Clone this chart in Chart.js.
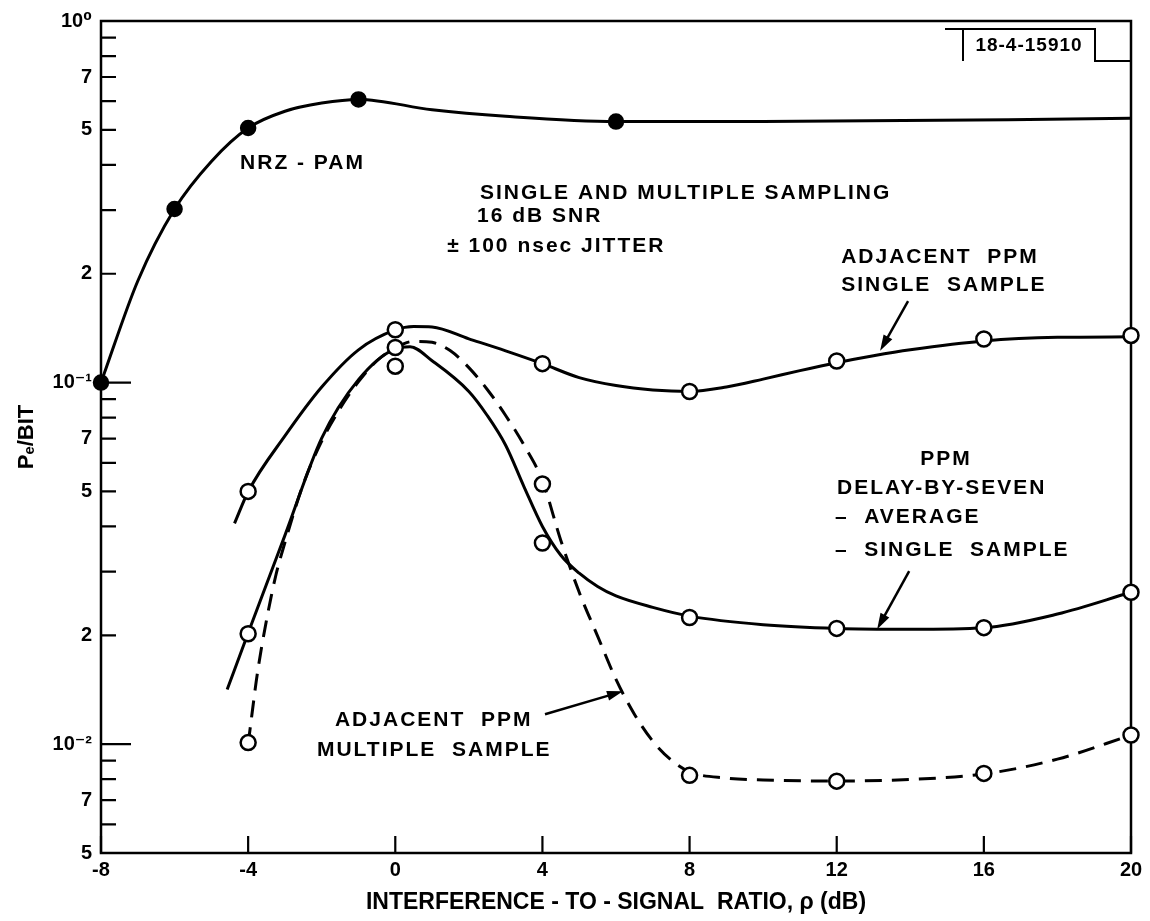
<!DOCTYPE html>
<html>
<head>
<meta charset="utf-8">
<script src="https://cdn.jsdelivr.net/npm/chart.js@4.4.0/dist/chart.umd.min.js"></script>
<style>
  html, body { margin: 0; padding: 0; background: #fff; }
  #wrap { width: 1150px; height: 921px; }
</style>
</head>
<body>
<div id="wrap"><canvas id="pe"></canvas></div>
<script>
// axis ticks
const xTicks = [-8, -4, 0, 4, 8, 12, 16, 20];
const yTicks = [1, 0.9, 0.8, 0.7, 0.6, 0.5, 0.4, 0.3, 0.2,
                0.1, 0.09, 0.08, 0.07, 0.06, 0.05, 0.04, 0.03, 0.02,
                0.01, 0.009, 0.008, 0.007, 0.006, 0.005];
const yLabelValues = [1, 0.7, 0.5, 0.2, 0.1, 0.07, 0.05, 0.02, 0.01, 0.007, 0.005];
const yLabelText = ['10⁰', '7', '5', '2', '10⁻¹', '7', '5', '2', '10⁻²', '7', '5'];

// NRZ-PAM (filled dots)
const nrzX = [-8, -7, -6, -5, -4, -3, -2, -1, 1, 3, 6, 10, 20];
const nrzY = [0.1, 0.191, 0.302, 0.409, 0.506, 0.563, 0.593, 0.607, 0.568, 0.545, 0.527, 0.527, 0.538];
const nrzMarkX = [-8, -6, -4, -1, 6];
const nrzMarkY = [0.1, 0.302, 0.506, 0.607, 0.527];

// adjacent PPM, single sample
const adjSingleX = [-4.37, -4, -3, -2, -1, 0, 0.5, 1, 2, 3, 4, 5, 6, 7, 8, 9, 10, 11, 12, 13, 14, 16, 18, 20];
const adjSingleY = [0.0408, 0.0499, 0.0712, 0.0972, 0.1232, 0.1398, 0.1429, 0.1425, 0.1321, 0.1224, 0.1128,
                    0.1032, 0.0981, 0.0954, 0.0945, 0.0972, 0.1022, 0.1079, 0.1135, 0.1186, 0.1232,
                    0.1304, 0.1334, 0.1338];
const adjSingleMarkX = [-4, 0, 4, 8, 12, 16, 20];
const adjSingleMarkY = [0.05, 0.14, 0.1128, 0.0945, 0.1147, 0.132, 0.135];

// PPM delay-by-seven, single sample
const delayX = [-4.57, -4, -3, -2, -1, 0, 0.4, 1, 2, 2.5, 3, 3.5, 4, 4.5, 5, 5.5, 6, 7, 8, 10, 12, 14, 16, 18, 20];
const delayY = [0.01416, 0.0203, 0.0378, 0.0702, 0.1019, 0.124, 0.1256, 0.1149, 0.0945, 0.0811, 0.0671, 0.0515,
                0.040, 0.0333, 0.0297, 0.0273, 0.0257, 0.0239, 0.0226, 0.0214, 0.0209, 0.0208, 0.021, 0.0229, 0.0263];
const delayMarkX = [-4, 0, 4, 8, 12, 16, 20];
const delayMarkY = [0.0202, 0.111, 0.036, 0.0224, 0.0209, 0.021, 0.0263];

// adjacent PPM, multiple sample (dashed)
const adjMultiX = [-4, -3.9, -3.75, -3.5, -3.24, -3, -2.5, -2, -1.5, -1, -0.5, 0, 0.5, 1, 1.5, 2, 2.5, 3, 3.5, 4,
                   4.5, 5, 5.5, 6, 6.5, 7, 7.5, 8, 9, 10, 12, 14, 16, 18, 20];
const adjMultiY = [0.0100, 0.01202, 0.01567, 0.02205, 0.0295, 0.03611, 0.05246, 0.06884, 0.08484, 0.1006, 0.1149,
                   0.1248, 0.13, 0.1292, 0.1224, 0.11, 0.0957, 0.0811, 0.0671, 0.0535,
                   0.0366, 0.0263, 0.0199, 0.0151, 0.0121, 0.01019, 0.00904, 0.00838, 0.00806, 0.00796,
                   0.00791, 0.00799, 0.00827, 0.00909, 0.01059];
const adjMultiMarkX = [-4, 0, 4, 8, 12, 16, 20];
const adjMultiMarkY = [0.0101, 0.125, 0.0524, 0.0082, 0.0079, 0.0083, 0.0106];

const FONT = '"Liberation Sans", "DejaVu Sans", sans-serif';
const pts = (xs, ys) => xs.map((v, i) => ({x: v, y: ys[i]}));

const curve = (data, dash) => ({
    data: data,
    borderColor: '#000',
    borderWidth: 3,
    borderDash: dash || [],
    pointRadius: 0,
    cubicInterpolationMode: 'monotone',
    fill: false,
    clip: false,
    order: 2
});
const marks = (data, filled) => ({
    data: data,
    showLine: false,
    pointStyle: 'circle',
    pointRadius: filled ? 7 : 7.5,
    pointBorderWidth: 2.5,
    pointBackgroundColor: filled ? '#000' : '#fff',
    pointBorderColor: '#000',
    clip: false,
    order: 1
});

// frame and inward tick marks
const frame = {
    id: 'frame',
    beforeDatasetsDraw(chart) {
        const {ctx, chartArea: a, scales: {x, y}} = chart;
        ctx.save();
        ctx.strokeStyle = '#000';
        ctx.lineWidth = 2.5;
        ctx.strokeRect(a.left, a.top, a.right - a.left, a.bottom - a.top);
        ctx.lineWidth = 2.2;
        ctx.beginPath();
        yTicks.forEach(v => {
            const py = y.getPixelForValue(v);
            const lg = Math.log10(v);
            const len = Math.abs(lg - Math.round(lg)) < 1e-9 ? 30 : 15;
            ctx.moveTo(a.left, py);
            ctx.lineTo(a.left + len, py);
        });
        xTicks.forEach(v => {
            const px = x.getPixelForValue(v);
            ctx.moveTo(px, a.bottom);
            ctx.lineTo(px, a.bottom - 17);
        });
        ctx.stroke();
        ctx.restore();
    }
};

// curve labels, arrows and the figure number box
const notes = {
    id: 'notes',
    afterDraw(chart) {
        const {ctx, chartArea: a, scales: {x, y}} = chart;
        const at = (dx, v) => [x.getPixelForValue(dx), y.getPixelForValue(v)];
        ctx.save();
        ctx.fillStyle = '#000';
        ctx.strokeStyle = '#000';
        ctx.font = 'bold 21px ' + FONT;
        ctx.letterSpacing = '2px';
        ctx.textBaseline = 'middle';

        const label = (s, dx, v, align) => {
            const [px, py] = at(dx, v);
            ctx.textAlign = align || 'left';
            ctx.fillText(s, px, py);
        };
        const arrow = (x0, v0, x1, v1) => {
            const [ax, ay] = at(x0, v0);
            const [bx, by] = at(x1, v1);
            const ang = Math.atan2(by - ay, bx - ax);
            ctx.lineWidth = 2.5;
            ctx.beginPath();
            ctx.moveTo(ax, ay);
            ctx.lineTo(bx - 10 * Math.cos(ang), by - 10 * Math.sin(ang));
            ctx.stroke();
            ctx.beginPath();
            ctx.moveTo(bx, by);
            ctx.lineTo(bx - 16 * Math.cos(ang) + 5 * Math.sin(ang), by - 16 * Math.sin(ang) - 5 * Math.cos(ang));
            ctx.lineTo(bx - 16 * Math.cos(ang) - 5 * Math.sin(ang), by - 16 * Math.sin(ang) + 5 * Math.cos(ang));
            ctx.closePath();
            ctx.fill();
        };

        label('NRZ - PAM', -4.22, 0.405);
        label('SINGLE AND MULTIPLE SAMPLING', 2.30, 0.335);
        label('16 dB SNR', 2.22, 0.288);
        label('± 100 nsec JITTER', 1.41, 0.239);

        label('ADJACENT  PPM', 12.12, 0.222);
        label('SINGLE  SAMPLE', 12.12, 0.186);
        arrow(13.94, 0.168, 13.18, 0.1224);

        label('PPM', 14.97, 0.0614, 'center');
        label('DELAY-BY-SEVEN', 12.01, 0.0511);
        label('–  AVERAGE', 11.95, 0.0423);
        label('–  SINGLE  SAMPLE', 11.95, 0.0343);
        arrow(13.97, 0.0301, 13.10, 0.0208);

        label('ADJACENT  PPM', -1.64, 0.01164);
        label('MULTIPLE  SAMPLE', -2.13, 0.00963);
        arrow(4.07, 0.0121, 6.19, 0.0140);

        // figure number box, top right corner
        ctx.lineWidth = 2;
        ctx.beginPath();
        ctx.moveTo(a.right - 186, a.top + 8);
        ctx.lineTo(a.right - 36, a.top + 8);
        ctx.lineTo(a.right - 36, a.top + 40);
        ctx.lineTo(a.right, a.top + 40);
        ctx.moveTo(a.right - 168, a.top + 8);
        ctx.lineTo(a.right - 168, a.top + 40);
        ctx.stroke();
        ctx.font = 'bold 19px ' + FONT;
        ctx.letterSpacing = '1px';
        ctx.textAlign = 'center';
        ctx.fillText('18-4-15910', a.right - 102, a.top + 25);
        ctx.restore();
    }
};

new Chart(document.getElementById('pe'), {
    type: 'line',
    plugins: [frame, notes],
    data: {
        datasets: [
            marks(pts(nrzMarkX, nrzMarkY), true),
            marks(pts(adjSingleMarkX, adjSingleMarkY), false),
            marks(pts(delayMarkX, delayMarkY), false),
            marks(pts(adjMultiMarkX, adjMultiMarkY), false),
            curve(pts(nrzX, nrzY)),
            curve(pts(adjSingleX, adjSingleY)),
            curve(pts(delayX, delayY)),
            curve(pts(adjMultiX, adjMultiY), [17, 10])
        ]
    },
    options: {
        responsive: true,
        maintainAspectRatio: false,
        animation: false,
        layout: { padding: { left: 0, right: 19, top: 15, bottom: 0 } },
        plugins: {
            legend: { display: false },
            tooltip: { enabled: false }
        },
        scales: {
            x: {
                type: 'linear',
                min: -8,
                max: 20,
                afterBuildTicks: s => { s.ticks = xTicks.map(v => ({value: v})); },
                afterFit: s => { s.height = 68; },
                grid: { display: false, drawTicks: false },
                border: { display: false },
                ticks: {
                    color: '#000',
                    padding: 5,
                    maxRotation: 0,
                    font: { family: FONT, size: 20, weight: 'bold' }
                },
                title: {
                    display: true,
                    text: 'INTERFERENCE - TO - SIGNAL  RATIO, ρ (dB)',
                    color: '#000',
                    padding: { top: 0, bottom: 5 },
                    font: { family: FONT, size: 23, weight: 'bold' }
                }
            },
            y: {
                type: 'logarithmic',
                min: 0.005,
                max: 1,
                afterBuildTicks: s => { s.ticks = yTicks.map(v => ({value: v})); },
                afterFit: s => { s.width = 101; },
                grid: { display: false, drawTicks: false },
                border: { display: false },
                ticks: {
                    color: '#000',
                    padding: 9,
                    autoSkip: false,
                    font: { family: FONT, size: 20, weight: 'bold' },
                    callback: v => {
                        const i = yLabelValues.findIndex(t => Math.abs(t - v) / t < 1e-6);
                        return i >= 0 ? yLabelText[i] : '';
                    }
                },
                title: {
                    display: true,
                    text: 'Pₑ/BIT',
                    color: '#000',
                    padding: { top: 14, bottom: 0 },
                    font: { family: FONT, size: 22, weight: 'bold' }
                }
            }
        }
    }
});
</script>
</body>
</html>
